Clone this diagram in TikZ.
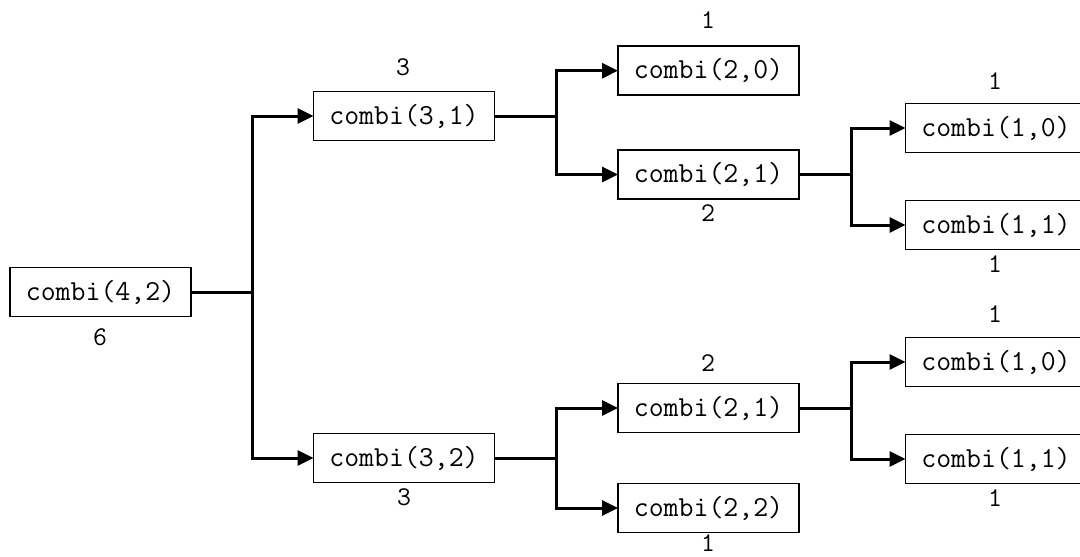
\documentclass[tikz,border=0pt]{standalone}
\usepackage{fontspec}
\usetikzlibrary{arrows.meta}
\begin{document}
\begin{tikzpicture}[x=1pt,y=-1pt,
  box/.style={draw=black, line width=1.8pt, rectangle, minimum width=181pt, minimum height=49pt, inner sep=0pt, outer sep=0pt, font=\ttfamily\fontsize{29}{32}\selectfont},
  lbl/.style={font=\ttfamily\fontsize{27}{32}\selectfont, inner sep=0pt},
  conn/.style={line width=3pt},
  arr/.style={line width=3pt, -{Triangle[length=16pt,width=15pt]}}]
\useasboundingbox (0,0) rectangle (1080,557);
\clip (0,0) rectangle (1080,557);
\fill[white] (0,0) rectangle (1080,557);
% boxes
\node[box] (A) at (100.5,292) {combi(4,2)};
\node[box] (B) at (404,116) {combi(3,1)};
\node[box] (C) at (404,458) {combi(3,2)};
\node[box] (D) at (708.5,70.7) {combi(2,0)};
\node[box] (E) at (708.5,174.5) {combi(2,1)};
\node[box] (F) at (996,128) {combi(1,0)};
\node[box] (G) at (996,225) {combi(1,1)};
\node[box] (H) at (708.5,408) {combi(2,1)};
\node[box] (I) at (708.5,508) {combi(2,2)};
\node[box] (J) at (996,362) {combi(1,0)};
\node[box] (K) at (996,459) {combi(1,1)};
% labels
\node[lbl] (lA) at (100,337) {6};
\node[lbl] (lB) at (403,67) {3};
\node[lbl] (lC) at (404,497) {3};
\node[lbl] (lD) at (708,20) {1};
\node[lbl] (lE) at (708,213) {2};
\node[lbl] (lF) at (995,81) {1};
\node[lbl] (lG) at (995,264) {1};
\node[lbl] (lH) at (708,363) {2};
\node[lbl] (lI) at (708,543) {1};
\node[lbl] (lJ) at (995,314) {1};
\node[lbl] (lK) at (995,498) {1};
% junctions
\coordinate (jA) at (252,292);
\coordinate (jB) at (556,116);
\coordinate (jC) at (556,458);
\coordinate (jE) at (851,174.5);
\coordinate (jH) at (851,408);
% connectors
\draw[conn] (A.east) -- (jA);
\draw[arr] (jA) |- (B.west);
\draw[arr] (jA) |- (C.west);
\draw[conn] (B.east) -- (jB);
\draw[arr] (jB) |- (D.west);
\draw[arr] (jB) |- (E.west);
\draw[conn] (E.east) -- (jE);
\draw[arr] (jE) |- (F.west);
\draw[arr] (jE) |- (G.west);
\draw[conn] (C.east) -- (jC);
\draw[arr] (jC) |- (H.west);
\draw[arr] (jC) |- (I.west);
\draw[conn] (H.east) -- (jH);
\draw[arr] (jH) |- (J.west);
\draw[arr] (jH) |- (K.west);
\end{tikzpicture}
\end{document}
